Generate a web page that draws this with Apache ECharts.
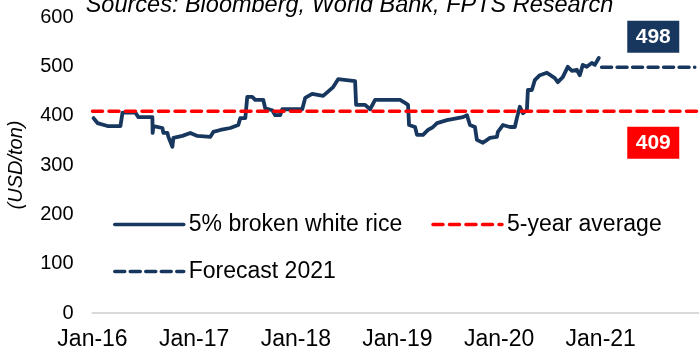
<!DOCTYPE html>
<html><head><meta charset="utf-8">
<script src="https://cdn.jsdelivr.net/npm/echarts@6/dist/echarts.min.js"></script>
<style>html,body{margin:0;padding:0;background:#fff}#c{width:699px;height:354px}</style>
</head><body><div id="c"></div>
<script>
// x values are months since Jan-2016
const xTickLabels = ['Jan-16','Jan-17','Jan-18','Jan-19','Jan-20','Jan-21'];
const yTicks = [0,100,200,300,400,500,600];
const riceMonths = [0.12,0.59,1.77,3.30,3.54,5.07,5.42,7.07,7.10,7.19,8.25,8.37,8.84,8.96,9.43,9.55,10.61,11.55,12.38,13.91,14.26,15.09,16.27,17.21,17.45,18.04,18.27,18.86,19.21,20.16,20.39,21.22,21.57,22.16,22.40,24.76,25.11,25.93,27.23,28.41,29.00,31.00,31.12,32.18,32.77,33.36,33.71,34.19,36.31,36.90,37.25,37.37,38.08,38.31,39.02,39.61,40.20,40.67,41.85,43.73,44.21,44.56,45.15,45.38,46.09,46.92,47.74,47.86,48.45,49.27,49.86,50.10,50.45,50.81,51.28,51.40,51.87,52.22,52.81,53.64,54.58,54.93,55.52,56.11,56.58,57.17,57.53,57.88,58.35,58.94,59.30,59.77];
const ricePrices = [395,385,379,379,406,406,397,397,365,379,375,365,365,357,337,355,359,365,359,357,367,371,375,381,395,395,438,438,432,432,415,411,401,401,413,413,436,444,440,458,474,470,422,422,413,432,432,432,432,426,422,381,377,361,361,371,377,385,391,397,401,381,377,351,345,355,357,367,381,377,377,395,418,405,411,452,452,472,482,487,476,468,478,499,491,493,482,503,499,507,503,517];
const averageValue = 409;
const averageMonths = [0, 71.6];
const forecastValue = 498;
const forecastMonths = [60.1, 71.1];
const seriesNames = ['5% broken white rice','5-year average','Forecast 2021'];

const NAVY = '#17375e', RED = '#ff0000';
const FONT = 'Liberation Sans, Arial, sans-serif';
const legendCommon = {itemWidth: 69, itemHeight: 14, itemStyle: {opacity: 0, borderWidth: 0},
  lineStyle: {width: 3.5},
  textStyle: {fontSize: 23, color: '#000', fontFamily: FONT}};
const chart = echarts.init(document.getElementById('c'));
chart.setOption({
  animation: false,
  backgroundColor: '#fff',
  textStyle: {fontFamily: FONT},
  graphic: [{
    type: 'text', left: 'center', top: -6,
    style: {text: 'Sources: Bloomberg, World Bank, FPTS Research', font: 'italic 23.5px ' + FONT, fill: '#000', textAlign: 'center'}
  }],
  grid: {left: 92.5, right: 0, top: 17, bottom: 41, containLabel: false, outerBoundsMode: 'none'},
  legend: [
    Object.assign({data: [seriesNames[0], seriesNames[1]], left: 108, top: 208, itemGap: 29}, legendCommon),
    Object.assign({data: [seriesNames[2]], left: 108, top: 255}, legendCommon)
  ],
  xAxis: {
    type: 'value', min: 0, max: 71.6, interval: 12,
    axisLine: {show: true, onZero: false, lineStyle: {color: '#d9d9d9', width: 2}},
    axisTick: {show: false}, splitLine: {show: false},
    axisLabel: {margin: 15, fontSize: 23, color: '#000', showMaxLabel: false,
      formatter: v => (v % 12 === 0 ? (xTickLabels[v / 12] || '') : '')}
  },
  yAxis: {
    type: 'value', min: yTicks[0], max: yTicks[yTicks.length - 1], interval: 100,
    name: '(USD/ton)', nameLocation: 'middle', nameRotate: 90, nameGap: 66,
    nameTextStyle: {fontSize: 20, fontStyle: 'italic', color: '#000'},
    axisLine: {show: false}, axisTick: {show: false}, splitLine: {show: false},
    axisLabel: {margin: 19, fontSize: 20, color: '#000'}
  },
  series: [
    {name: seriesNames[0], type: 'line', symbol: 'none', z: 3,
     data: riceMonths.map((m, i) => [m, ricePrices[i]]),
     lineStyle: {color: NAVY, width: 3.8, join: 'round', cap: 'round'}, itemStyle: {color: NAVY}},
    {name: seriesNames[1], type: 'line', symbol: 'none', z: 4,
     data: averageMonths.map(m => [m, averageValue]),
     lineStyle: {color: RED, width: 3.5, type: [10, 6.5], cap: 'round'}, itemStyle: {color: RED},
     markPoint: {symbol: 'rect', symbolSize: [52, 32], silent: true,
       itemStyle: {color: RED},
       label: {show: true, position: 'inside', color: '#fff', fontWeight: 'bold', fontSize: 21, formatter: () => String(averageValue)},
       data: [{coord: [66.2, 345], value: averageValue}]}},
    {name: seriesNames[2], type: 'line', symbol: 'none', z: 4,
     data: forecastMonths.map(m => [m, forecastValue]),
     lineStyle: {color: NAVY, width: 3.5, type: [10, 5.5], cap: 'round'}, itemStyle: {color: NAVY},
     markPoint: {symbol: 'rect', symbolSize: [52, 32], silent: true,
       itemStyle: {color: NAVY},
       label: {show: true, position: 'inside', color: '#fff', fontWeight: 'bold', fontSize: 21, formatter: () => String(forecastValue)},
       data: [{coord: [66.2, 560], value: forecastValue}]}}
  ]
});
</script></body></html>
